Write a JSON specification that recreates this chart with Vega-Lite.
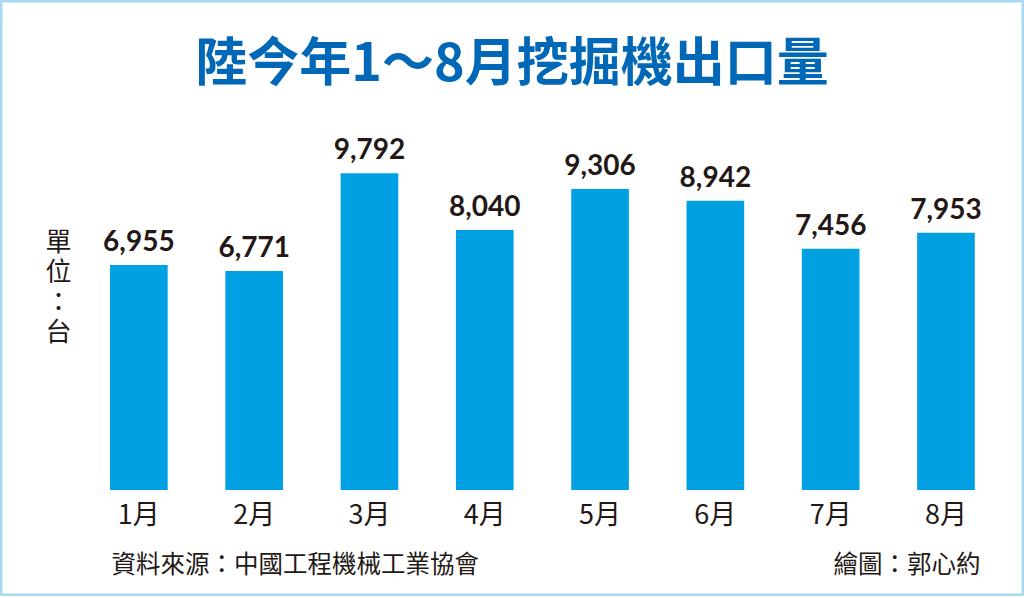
{
  "$schema": "https://vega.github.io/schema/vega-lite/v6.json",
  "autosize": "none",
  "padding": 0,
  "width": 1024,
  "height": 596,
  "background": "white",
  "title": {
    "text": "陸今年1～8月挖掘機出口量",
    "font": "Noto Sans CJK TC",
    "fontSize": 52,
    "fontWeight": "bold",
    "color": "#0068b7",
    "anchor": "middle",
    "frame": "group",
    "orient": "top",
    "baseline": "top",
    "offset": 0,
    "dy": 92
  },
  "data": {
    "values": [
      {"month": "1月", "value": 6955},
      {"month": "2月", "value": 6771},
      {"month": "3月", "value": 9792},
      {"month": "4月", "value": 8040},
      {"month": "5月", "value": 9306},
      {"month": "6月", "value": 8942},
      {"month": "7月", "value": 7456},
      {"month": "8月", "value": 7953}
    ]
  },
  "encoding": {
    "x": {
      "field": "month",
      "type": "nominal",
      "sort": null,
      "scale": {"paddingInner": 0.5, "paddingOuter": 0.6905, "align": 0.691},
      "axis": {
        "orient": "bottom",
        "offset": -106,
        "domain": false,
        "ticks": false,
        "tickSize": 0,
        "labelPadding": 12,
        "labelAngle": 0,
        "labelFont": "Noto Sans CJK TC",
        "labelFontSize": 27,
        "labelColor": "#231815",
        "title": "資料來源：中國工程機械工業協會",
        "titleFont": "Noto Sans CJK TC",
        "titleFontSize": 24.5,
        "titleFontWeight": "normal",
        "titleColor": "#231815",
        "titleAlign": "left",
        "titleBaseline": "middle",
        "titleX": 111,
        "titleY": 75
      }
    }
  },
  "layer": [
    {
      "mark": {"type": "bar", "color": "#00a0e2"},
      "encoding": {
        "y": {
          "field": "value",
          "type": "quantitative",
          "scale": {"domain": [-3277, 15147], "nice": false, "zero": false},
          "axis": {
            "orient": "left",
            "domain": false,
            "ticks": false,
            "labels": false,
            "grid": false,
            "title": ["單", "位", "：", "台"],
            "titleFont": "Noto Sans CJK TC",
            "titleFontSize": 26,
            "titleFontWeight": "normal",
            "titleColor": "#231815",
            "titleAngle": 0,
            "titleAlign": "center",
            "titleBaseline": "top",
            "titleLineHeight": 30,
            "titleX": 58,
            "titleY": 229
          }
        }
      }
    },
    {
      "mark": {
        "type": "text",
        "font": "Lato",
        "fontWeight": "bold",
        "fontSize": 28,
        "color": "#231815",
        "baseline": "alphabetic",
        "dy": -14
      },
      "encoding": {
        "y": {
          "field": "value",
          "type": "quantitative",
          "scale": {"domain": [-3277, 15147], "nice": false, "zero": false},
          "axis": {
            "orient": "right",
            "domain": false,
            "ticks": false,
            "labels": false,
            "grid": false,
            "title": "繪圖：郭心約",
            "titleFont": "Noto Sans CJK TC",
            "titleFontSize": 24.5,
            "titleFontWeight": "normal",
            "titleColor": "#231815",
            "titleAngle": 0,
            "titleAlign": "right",
            "titleBaseline": "middle",
            "titleX": -44,
            "titleY": 565
          }
        },
        "text": {"field": "value", "type": "quantitative", "format": ","}
      }
    }
  ],
  "resolve": {"scale": {"y": "independent"}},
  "config": {
    "view": {"stroke": "#a6d9f3", "strokeWidth": 5},
    "axis": {"grid": false}
  }
}
